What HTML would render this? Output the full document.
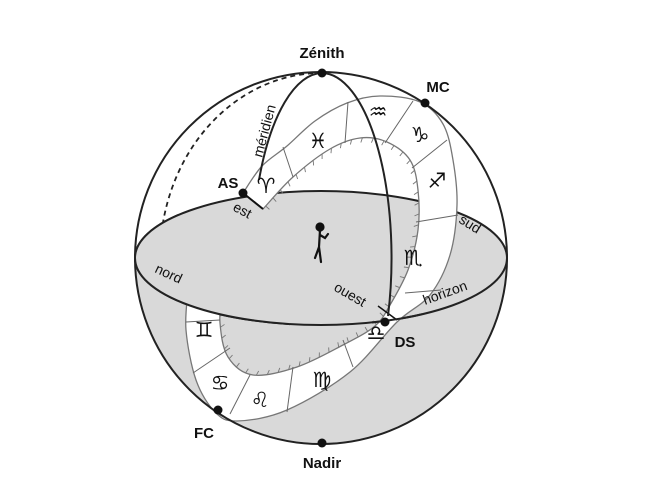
<!DOCTYPE html>
<html><head><meta charset="utf-8"><style>
html,body{margin:0;padding:0;background:#fff;}
svg{display:block;}
text{font-family:"Liberation Sans","DejaVu Sans",sans-serif;fill:#111;}
.b{font-weight:bold;font-size:15px;}
.s{font-size:14px;}
.z{font-family:"DejaVu Sans",sans-serif;font-size:21px;font-weight:bold;}
</style></head><body>
<svg id="s" width="654" height="500" viewBox="0 0 654 500" xmlns="http://www.w3.org/2000/svg">
<defs><clipPath id="lc"><rect x="100" y="214" width="190" height="140"/></clipPath>
<clipPath id="rc"><rect x="372" y="300" width="50" height="40"/></clipPath></defs>
<path d="M135,258 A186,185 0 0 0 507,258 A186,67 0 0 0 135,258 Z" fill="#d9d9d9"/>
<ellipse cx="321" cy="258" rx="186" ry="67" fill="#d9d9d9" stroke="#222" stroke-width="2"/>
<path d="M322,73 A162,185 0 0 0 160,258 L160,275" fill="none" stroke="#222" stroke-width="1.8" stroke-dasharray="5,4"/>
<g id="band"></g>
<g clip-path="url(#lc)">
<ellipse cx="321" cy="258" rx="186" ry="67" fill="#d9d9d9" stroke="#222" stroke-width="2"/>
</g>
<g clip-path="url(#rc)">
<ellipse cx="321" cy="258" rx="186" ry="67" fill="none" stroke="#222" stroke-width="2"/>
</g>
<circle cx="321" cy="258" r="186" fill="none" stroke="#222" stroke-width="2"/>
<path d="M322,73 A70,185 0 0 1 388,316" fill="none" stroke="#222" stroke-width="2"/>
<path d="M322,73 A70,185 0 0 0 259,180" fill="none" stroke="#222" stroke-width="2"/>
<g stroke="#111" stroke-width="2.2" fill="none" stroke-linecap="round">
<circle cx="320" cy="227" r="3.5" fill="#111"/>
<path d="M320,230 L319,247 L315,258 M319,247 L321,262 M320,235 L325,238 L328,234"/>
</g>
<g fill="#111">
<circle cx="322" cy="73" r="4.5"/><circle cx="425" cy="103" r="4.5"/>
<circle cx="243" cy="193" r="4.5"/><circle cx="385" cy="322" r="4.5"/>
<circle cx="218" cy="410" r="4.5"/><circle cx="322" cy="443" r="4.5"/>
</g>
<text class="b" x="322" y="58" text-anchor="middle">Zénith</text>
<text class="b" x="438" y="92" text-anchor="middle">MC</text>
<text class="b" x="228" y="188" text-anchor="middle">AS</text>
<text class="b" x="405" y="347" text-anchor="middle">DS</text>
<text class="b" x="204" y="438" text-anchor="middle">FC</text>
<text class="b" x="322" y="468" text-anchor="middle">Nadir</text>
<text class="s" transform="translate(262,158) rotate(-75)">méridien</text>
<text class="s" transform="translate(232,210) rotate(28)">est</text>
<text class="s" transform="translate(154,272) rotate(25)">nord</text>
<text class="s" transform="translate(458,222) rotate(32)">sud</text>
<text class="s" transform="translate(333,290) rotate(30)">ouest</text>
<text class="s" transform="translate(425,305) rotate(-20)">horizon</text>
<g text-anchor="middle">
<text class="z" x="266" y="193">♈</text>
<text class="z" x="318" y="148">♓</text>
<text class="z" x="378" y="119">♒</text>
<text class="z" x="420" y="142">♑</text>
<text class="z" x="437" y="188">♐</text>
<text class="z" x="413" y="265">♏</text>
<text class="z" x="376" y="340">♎</text>
<text class="z" x="322" y="387">♍</text>
<text class="z" x="260" y="407">♌</text>
<text class="z" x="220" y="390">♋</text>
<text class="z" x="204" y="337">♊</text>
</g>
</svg>
<script>
(function(){
var g=document.getElementById('band');var NS='http://www.w3.org/2000/svg';
function cr(pts){var d='M'+pts[0][0]+','+pts[0][1];
for(var i=0;i<pts.length-1;i++){var p0=pts[i-1]||pts[i],p1=pts[i],p2=pts[i+1],p3=pts[i+2]||p2;
d+='C'+(p1[0]+(p2[0]-p0[0])/6).toFixed(1)+','+(p1[1]+(p2[1]-p0[1])/6).toFixed(1)+' '+(p2[0]-(p3[0]-p1[0])/6).toFixed(1)+','+(p2[1]-(p3[1]-p1[1])/6).toFixed(1)+' '+p2[0]+','+p2[1];}
return d;}
var O=[[243,193],[262,166],[287,146],[315,121],[347,103],[380,96],[420,102],[443,124],[453,160],[457,205],[450,255],[430,295],[397,322],[350,372],[287,410],[237,421],[215,412],[196,380],[186,330],[188,290]];
var I=[[263,209],[293,177],[330,149],[360,138],[387,142],[410,160],[418,190],[418,230],[408,270],[390,305],[375,326],[343,345],[297,367],[253,375],[228,357],[220,323],[222,290]];
var Ir=I.slice().reverse();
var d=cr(O)+'L'+Ir[0]+cr(Ir).replace(/^M[^C]*/,'')+'Z';
var p=document.createElementNS(NS,'path');p.setAttribute('d',d);p.setAttribute('fill','#fff');p.setAttribute('stroke','#777');p.setAttribute('stroke-width','1.3');g.appendChild(p);
function ln(x1,y1,x2,y2,c,w){var l=document.createElementNS(NS,'line');l.setAttribute('x1',x1);l.setAttribute('y1',y1);l.setAttribute('x2',x2);l.setAttribute('y2',y2);l.setAttribute('stroke',c);l.setAttribute('stroke-width',w);g.appendChild(l);}
ln(243,193,263,209,'#111',2);
ln(378,306,397,320,'#111',1.5);
var D=[[283,147,293,177],[348,102,345,143],[413,101,385,143],[447,140,412,168],[458,215,416,222],[441,290,405,293],[353,367,343,340],[287,412,293,367],[230,414,250,375],[193,373,230,348],[186,322,220,320]];
D.forEach(function(a){ln(a[0],a[1],a[2],a[3],'#666',1);});
var ip=document.createElementNS(NS,'path');ip.setAttribute('d',cr(I));ip.setAttribute('fill','none');g.appendChild(ip);
var L=ip.getTotalLength();
for(var s=4;s<L;s+=11){var q=ip.getPointAtLength(s);var dx=322-q.x,dy=256-q.y,m=Math.sqrt(dx*dx+dy*dy);
ln(q.x,q.y,q.x+dx/m*5,q.y+dy/m*5,'#777',0.9);}
})();
</script>
</body></html>
